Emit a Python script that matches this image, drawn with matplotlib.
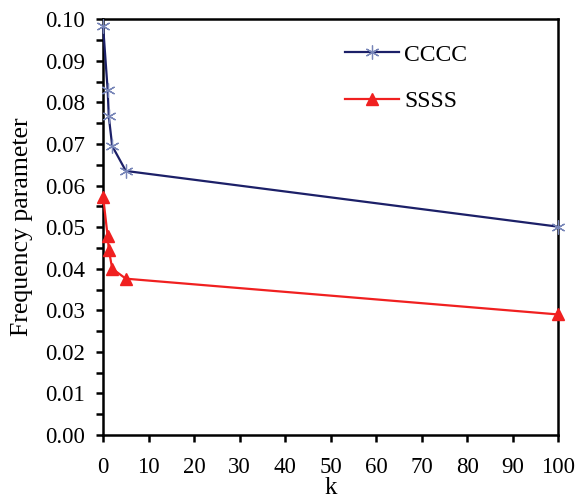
import numpy as np
import matplotlib
matplotlib.use('Agg')
import matplotlib.pyplot as plt
from matplotlib.ticker import MultipleLocator, FormatStrFormatter

plt.rcParams['font.family'] = ['Liberation Serif', 'DejaVu Serif']

# Dados
k_vals = [0, 1, 1.25, 2, 5, 100]
cccc = [0.0983, 0.0830, 0.0766, 0.0695, 0.0635, 0.0501]
ssss = [0.0573, 0.0478, 0.0446, 0.0400, 0.0376, 0.0290]

fig = plt.figure(figsize=(5.76, 5.03), dpi=100)
ax = fig.add_axes([0.179, 0.135, 0.79, 0.827])

ax.plot(k_vals, cccc, color='#1c2068', linewidth=1.6,
        marker=(6, 2, 0), markersize=10, markeredgecolor='#7886b8',
        markeredgewidth=0.9, label='CCCC', clip_on=False, zorder=3)
ax.plot(k_vals, ssss, color='#f02020', linewidth=1.6,
        marker='^', markersize=8, markerfacecolor='#f02020',
        markeredgecolor='#f02020', label='SSSS', clip_on=False, zorder=3)

ax.set_xlim(0, 100)
ax.set_ylim(0, 0.10)
ax.xaxis.set_major_locator(MultipleLocator(10))
ax.yaxis.set_major_locator(MultipleLocator(0.01))
ax.yaxis.set_minor_locator(MultipleLocator(0.005))
ax.yaxis.set_major_formatter(FormatStrFormatter('%.2f'))

for s in ax.spines.values():
    s.set_linewidth(1.8)

ax.tick_params(axis='both', which='major', direction='out', length=5, width=1.8,
               labelsize=16.5)
ax.tick_params(axis='y', which='major', pad=8)
ax.tick_params(axis='x', which='major', pad=11)
ax.tick_params(axis='y', which='minor', direction='out', length=5, width=1.8)

ax.set_xlabel('k', fontsize=18, va='center')
ax.xaxis.set_label_coords(0.5, -0.128)
ax.set_ylabel('Frequency parameter', fontsize=18.5, labelpad=9)

ax.legend(loc='upper left', bbox_to_anchor=(0.532, 0.94), frameon=False,
          fontsize=17, handlelength=2.3, handletextpad=0.2,
          labelspacing=1.05, borderpad=0, borderaxespad=0)

plt.savefig('out.png', dpi=100)
